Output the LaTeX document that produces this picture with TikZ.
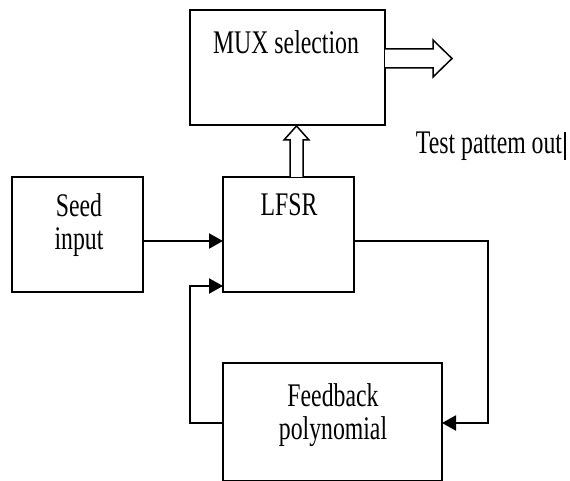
\documentclass[tikz,border=0pt]{standalone}
\usepackage{fontspec}
\setmainfont{Liberation Serif}
\usetikzlibrary{arrows.meta}
\tikzset{
  blk/.style={draw, line width=2.1pt, inner sep=0pt, outer sep=0pt},
  lbl/.style={inner sep=0pt, font=\fontsize{33}{37}\selectfont},
  wire/.style={line width=2.1pt},
  tip/.style={-{Triangle[length=14pt,width=15pt]}},
  hollow/.style={draw, line width=1.5pt, fill=white, line join=miter},
}
\newcommand{\nar}[1]{\scalebox{0.72}[1]{#1}}
\begin{document}
\begin{tikzpicture}[x=1pt,y=-1pt]
\useasboundingbox (0,0) rectangle (570,481);
% blocks (corner to corner)
\node[blk, minimum width=195pt, minimum height=115pt, anchor=north west] (mux) at (190,10) {};
\node[blk, minimum width=131pt, minimum height=115pt, anchor=north west] (seed) at (12,177) {};
\node[blk, minimum width=131pt, minimum height=115pt, anchor=north west] (lfsr) at (223,177) {};
\node[blk, minimum width=219pt, minimum height=118pt, anchor=north west] (fb) at (223,363) {};
% block texts
\node[lbl] (muxt) at (286,42) {\nar{MUX selection}};
\node[lbl] (seedt1) at (79,205) {\nar{Seed}};
\node[lbl] (seedt2) at (79,242) {\nar{input}};
\node[lbl] (lfsrt) at (289,205) {\nar{LFSR}};
\node[lbl] (fbt1) at (333,395) {\nar{Feedback}};
\node[lbl] (fbt2) at (333,432) {\nar{polynomial}};
\node[lbl] (outt) at (489,146) {\nar{Test pattem out}};
% text cursor after the output label
\draw[line width=2.2pt] (565,132) -- (565,160);
% connectors
\coordinate (fbleft) at (190,423);
\coordinate (fbright) at (488,423);
\draw[wire, tip] (seed.east |- 0,241) -- (lfsr.west |- 0,241);
\draw[wire, tip] (fb.west |- fbleft) -- (fbleft) -- (190,286) -- (lfsr.west |- 0,286);
\draw[wire, tip] (lfsr.east |- 0,241) -- (488,241) -- (fbright) -- (fb.east |- fbright);
% wide hollow arrows
\draw[hollow] (mux.east |- 0,49) -- (433,49) -- (433,40) -- (452,58.5) -- (433,77) -- (433,68) -- (mux.east |- 0,68);
\draw[hollow] (290,177) -- (290,140) -- (284,140) -- (296.5,126) -- (309,140) -- (303,140) -- (303,177);
\end{tikzpicture}
\end{document}
